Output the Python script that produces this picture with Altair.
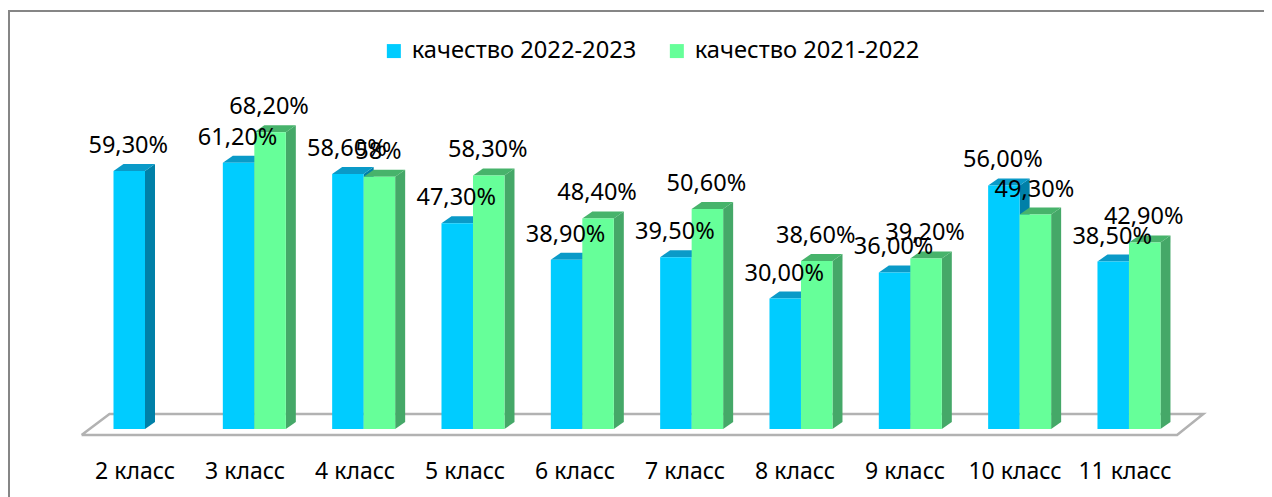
import altair as alt
import pandas as pd

categories = ["2 класс", "3 класс", "4 класс", "5 класс", "6 класс",
              "7 класс", "8 класс", "9 класс", "10 класс", "11 класс"]
quality_2223 = [59.3, 61.2, 58.6, 47.3, 38.9, 39.5, 30.0, 36.0, 56.0, 38.5]
quality_2122 = [None, 68.2, 58.0, 58.3, 48.4, 50.6, 38.6, 39.2, 49.3, 42.9]
labels_2223 = ["59,30%", "61,20%", "58,60%", "47,30%", "38,90%", "39,50%", "30,00%", "36,00%", "56,00%", "38,50%"]
labels_2122 = [None, "68,20%", "58%", "58,30%", "48,40%", "50,60%", "38,60%", "39,20%", "49,30%", "42,90%"]
names = ["качество 2022-2023", "качество 2021-2022"]
front = ["#00CCFF", "#66FF99"]
side = ["#0080A8", "#45A868"]
top = ["#0A9AC8", "#47B36B"]

W, H = 1256, 489
UX = 109.33            # px per category
UY = 4.35              # px per percent
X_ZERO, Y_ZERO = 137.0, 421
BAR = 31.5 / UX
DX = 10 / UX
DY = 7 / UY
FONT = "Noto Sans"

xs = alt.Scale(domain=[-X_ZERO / UX, (W - X_ZERO) / UX], range=[0, W], nice=False, zero=False)
ys = alt.Scale(domain=[-(H - Y_ZERO) / UY, Y_ZERO / UY], range=[H, 0], nice=False, zero=False)
X = lambda f: alt.X(f"{f}:Q", scale=xs, axis=None)
Y = lambda f: alt.Y(f"{f}:Q", scale=ys, axis=None)

# floor outline, in category / percent units
floor = pd.DataFrame({
    "x": [-0.58, -0.325, 9.68, 9.44, -0.58],
    "y": [-1.4, 3.45, 3.45, -1.4, -1.4],
    "o": [0, 1, 2, 3, 4],
})
layers = [
    alt.Chart(floor).mark_line(color="#B2B2B2", strokeWidth=2.5).encode(
        x=X("x"), y=Y("y"), order="o:Q"),
]

for s, (vals, texts) in enumerate([(quality_2223, labels_2223), (quality_2122, labels_2122)]):
    rows, side_rows, top_rows = [], [], []
    for i, v in enumerate(vals):
        if v is None:
            continue
        x0 = i - BAR + s * BAR
        x1 = x0 + BAR
        rows.append({"x0": x0, "x1": x1, "v": v, "zero": 0, "series": names[s]})
        side_rows += [
            {"id": i, "x": x1, "a": 0, "b": v},
            {"id": i, "x": x1 + DX, "a": DY, "b": v + DY},
        ]
        top_rows += [
            {"id": i, "x": x0, "a": v, "b": v},
            {"id": i, "x": x0 + DX, "a": v, "b": v + DY},
            {"id": i, "x": x1, "a": v, "b": v + DY},
            {"id": i, "x": x1 + DX, "a": v + DY, "b": v + DY},
        ]
    bars = pd.DataFrame(rows)
    layers.append(alt.Chart(pd.DataFrame(side_rows)).mark_area(color=side[s]).encode(
        x=X("x"), y=Y("a"), y2="b:Q", detail="id:N"))
    layers.append(alt.Chart(pd.DataFrame(top_rows)).mark_area(color=top[s]).encode(
        x=X("x"), y=Y("a"), y2="b:Q", detail="id:N"))
    layers.append(alt.Chart(bars).mark_bar(cornerRadius=0).encode(
        x=X("x0"), x2="x1:Q", y=Y("zero"), y2="v:Q",
        color=alt.Color("series:N", scale=alt.Scale(domain=names, range=front), legend=alt.Legend(
            title=None, orient="none", legendX=374, legendY=31, direction="horizontal", columns=2,
            symbolType="square", symbolSize=196, symbolStrokeWidth=0, symbolOpacity=1,
            labelFont=FONT, labelFontSize=23.7, labelColor="#000000", labelLimit=400,
            columnPadding=28, labelOffset=6))))

text_rows = []
for s, (vals, texts) in enumerate([(quality_2223, labels_2223), (quality_2122, labels_2122)]):
    for i, v in enumerate(vals):
        if v is not None:
            text_rows.append({"cx": i - BAR + s * BAR + BAR / 2, "v": v, "label": texts[i]})
layers.append(alt.Chart(pd.DataFrame(text_rows)).mark_text(
    font=FONT, fontSize=23.5, color="#000000", dy=-25, dx=-1, baseline="middle", align="center"
).encode(x=X("cx"), y=Y("v"), text="label:N"))

cat_df = pd.DataFrame({"x": [i - 0.09 + 0.006 * i for i in range(len(categories))], "label": categories})
layers.append(alt.Chart(cat_df).mark_text(
    font=FONT, fontSize=23, color="#000000", baseline="middle", align="center"
).encode(x=X("x"), y=alt.value(464), text="label:N"))

# chart frame: only the left and top edges fall inside the picture
frame = pd.DataFrame({"k": [0]})
layers.append(alt.Chart(frame).mark_rule(color="#868686", strokeWidth=2).encode(
    x=alt.value(1), y=alt.value(3), y2=alt.value(H)))
layers.append(alt.Chart(frame).mark_rule(color="#868686", strokeWidth=2).encode(
    y=alt.value(3), x=alt.value(0), x2=alt.value(W)))

chart = alt.layer(*layers).properties(
    width=W, height=H, padding=0, autosize=alt.AutoSizeParams(type="none"), background="#FFFFFF",
).configure_view(stroke=None)

chart.save("out.html", embed_options={"renderer": "svg", "actions": False})
